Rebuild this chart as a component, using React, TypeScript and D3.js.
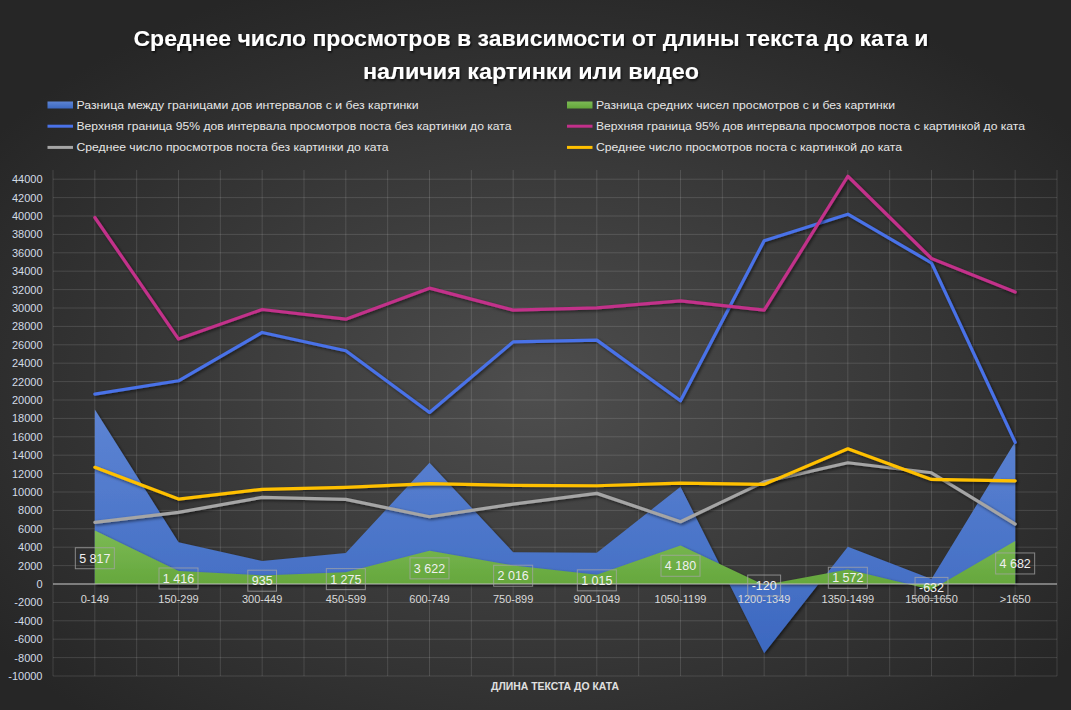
import React from 'react';
import * as d3 from 'd3';

const categories = ['0-149', '150-299', '300-449', '450-599', '600-749', '750-899', '900-1049', '1050-1199', '1200-1349', '1350-1499', '1500-1650', '>1650'];
const diffCI = [18980, 4530, 2500, 3370, 13180, 3440, 3400, 10570, -7530, 4060, 540, 15460];
const diffMean = [5817, 1416, 935, 1275, 3622, 2016, 1015, 4180, -120, 1572, -632, 4682];
const upperNoImg = [20640, 22090, 27340, 25350, 18650, 26320, 26510, 19920, 37300, 40200, 34900, 15400];
const upperImg = [39840, 26620, 29840, 28790, 32160, 29770, 30020, 30780, 29770, 44320, 35380, 31730];
const meanNoImg = [6700, 7790, 9420, 9200, 7310, 8690, 9850, 6770, 11100, 13180, 12090, 6520];
const meanImg = [12680, 9230, 10290, 10500, 10900, 10720, 10680, 10970, 10830, 14700, 11370, 11220];
const yTicks = d3.range(-10000, 44001, 2000);

const titleLines = ['Среднее число просмотров в зависимости от длины текста до ката и', 'наличия картинки или видео'];
const legendItems = [
  { label: 'Разница между границами дов интервалов с и без картинки', kind: 'area', color: 'url(#gBlue)', col: 0, row: 0 },
  { label: 'Разница средних чисел просмотров с и без картинки', kind: 'area', color: 'url(#gGreen)', col: 1, row: 0 },
  { label: 'Верхняя граница 95% дов интервала просмотров поста без картинки до ката', kind: 'line', color: '#4a72e8', col: 0, row: 1 },
  { label: 'Верхняя граница 95% дов интервала просмотров поста с картинкой до ката', kind: 'line', color: '#c2308a', col: 1, row: 1 },
  { label: 'Среднее  число просмотров поста без картинки до ката', kind: 'line', color: '#a5a5a5', col: 0, row: 2 },
  { label: 'Среднее  число просмотров поста с картинкой до ката', kind: 'line', color: '#ffc000', col: 1, row: 2 },
];
const legendWidths = [342, 299, 435, 429, 312, 306];

const W = 1071, H = 710;
const left = 53, right = 1057, top = 170, bottom = 676;

function fmt(v: number) {
  const s = Math.abs(v).toString();
  const g = s.length > 3 ? s.slice(0, s.length - 3) + ' ' + s.slice(s.length - 3) : s;
  return (v < 0 ? '-' : '') + g;
}

export default function App() {
  const x = d3.scaleBand<string>().domain(categories).range([left, right]).paddingInner(0).paddingOuter(0);
  const cx = (i: number) => (x(categories[i]) as number) + x.bandwidth() / 2;
  const y = d3.scaleLinear().domain([-10000, 45000]).range([bottom, top]);

  const area = d3.area<number>().x((_, i) => cx(i)).y0(y(0)).y1((d) => y(d));
  const line = d3.line<number>().x((_, i) => cx(i)).y((d) => y(d));

  const vGrid: number[] = [];
  categories.forEach((c) => {
    vGrid.push(x(c) as number);
    vGrid.push((x(c) as number) + x.bandwidth() / 2);
  });
  vGrid.push(right);

  const font = '"Liberation Sans", Arial, sans-serif';
  const lines = [
    { data: upperNoImg, color: '#4a72e8' },
    { data: upperImg, color: '#c2308a' },
    { data: meanNoImg, color: '#a5a5a5' },
    { data: meanImg, color: '#ffc000' },
  ];

  return (
    <svg width={W} height={H} style={{ position: 'absolute', left: 0, top: 0 }} fontFamily={font}>
      <defs>
        <radialGradient id="bg" cx="50%" cy="55%" r="62%">
          <stop offset="0%" stopColor="#4e4e4e" />
          <stop offset="100%" stopColor="#262626" />
        </radialGradient>
        <linearGradient id="gBlue" x1="0" y1="0" x2="0" y2="1">
          <stop offset="0%" stopColor="#5d84d3" />
          <stop offset="100%" stopColor="#3c68c0" />
        </linearGradient>
        <linearGradient id="gGreen" x1="0" y1="0" x2="0" y2="1">
          <stop offset="0%" stopColor="#7cba55" />
          <stop offset="100%" stopColor="#63a53a" />
        </linearGradient>
        <filter id="sh" x="-10%" y="-10%" width="120%" height="120%">
          <feDropShadow dx="1.5" dy="1.5" stdDeviation="1.5" floodColor="#000" floodOpacity="0.55" />
        </filter>
        <filter id="tsh" x="-5%" y="-20%" width="110%" height="140%">
          <feDropShadow dx="1" dy="1.5" stdDeviation="1.2" floodColor="#000" floodOpacity="0.8" />
        </filter>
      </defs>
      <rect x={0} y={0} width={W} height={H} fill="url(#bg)" />

      {titleLines.map((t, i) => (
        <text key={i} x={531} y={i === 0 ? 46 : 79} textAnchor="middle" fill="#ffffff" fontSize={22} fontWeight="bold"
          textLength={i === 0 ? 795 : 336} lengthAdjust="spacingAndGlyphs" filter="url(#tsh)">{t}</text>
      ))}

      {legendItems.map((it, i) => {
        const lx = it.col === 0 ? 47.5 : 567;
        const ly = 105 + it.row * 21.2;
        return (
          <g key={i}>
            {it.kind === 'area' ? (
              <rect x={lx} y={ly - 3.5} width={25.5} height={7} fill={it.color} />
            ) : (
              <line x1={lx} x2={lx + 25.5} y1={ly} y2={ly} stroke={it.color} strokeWidth={3} />
            )}
            <text x={lx + 29} y={ly + 4} fill="#e6e6e6" fontSize={11.5} textLength={legendWidths[i]} lengthAdjust="spacingAndGlyphs">{it.label}</text>
          </g>
        );
      })}

      <g stroke="#ffffff" strokeOpacity={0.13} strokeWidth={1}>
        {yTicks.map((t) => (
          <line key={'h' + t} x1={left} x2={right} y1={y(t)} y2={y(t)} />
        ))}
        {vGrid.map((v, i) => (
          <line key={'v' + i} x1={v} x2={v} y1={top} y2={bottom} />
        ))}
      </g>

      {yTicks.map((t) => (
        <text key={'yl' + t} x={42.5} y={y(t) + 4} textAnchor="end" fill="#d3dbe6" fontSize={11}>{t}</text>
      ))}

      <path d={area(diffCI) || ''} fill="url(#gBlue)" filter="url(#sh)" />
      <path d={area(diffMean) || ''} fill="url(#gGreen)" filter="url(#sh)" />

      <line x1={left} x2={right} y1={y(0)} y2={y(0)} stroke="#bfbfbf" strokeWidth={1.2} />

      {lines.map((l, i) => (
        <path key={i} d={line(l.data) || ''} fill="none" stroke={l.color} strokeWidth={3.2} strokeLinejoin="round" strokeLinecap="round" filter="url(#sh)" />
      ))}

      {categories.map((c, i) => (
        <text key={c} x={cx(i)} y={603} textAnchor="middle" fill="#d9d9d9" fontSize={11}>{c}</text>
      ))}

      {diffMean.map((v, i) => {
        const s = fmt(v);
        const tw = s.split('').reduce((a, ch) => a + (ch === ' ' ? 3.4 : ch === '-' ? 4.2 : 6.9), 0);
        const bw = tw + 8;
        const by = y(v / 2) + 1;
        return (
          <g key={'dl' + i}>
            <rect x={cx(i) - bw / 2} y={by - 10.5} width={bw} height={21} fill="none" stroke="#a6a6a6" strokeOpacity={0.75} strokeWidth={1} />
            <text x={cx(i)} y={by + 4.5} textAnchor="middle" fill="#f0f0f0" fontSize={12.5}>{s}</text>
          </g>
        );
      })}

      <text x={555} y={690} textAnchor="middle" fill="#e0e0e0" fontSize={11} fontWeight="bold" textLength={128} lengthAdjust="spacingAndGlyphs">ДЛИНА ТЕКСТА ДО КАТА</text>
    </svg>
  );
}
